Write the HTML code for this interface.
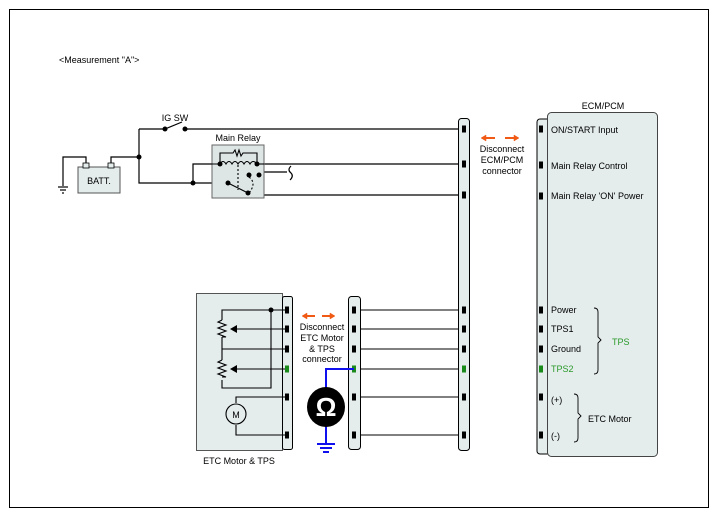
<!DOCTYPE html>
<html><head><meta charset="utf-8"><style>
html,body{margin:0;padding:0;background:#fff;}
svg{display:block;font-family:"Liberation Sans",sans-serif;}
</style></head><body>
<svg width="717" height="518" viewBox="0 0 717 518" xmlns="http://www.w3.org/2000/svg">
<rect x="9.5" y="9.5" width="699" height="498" fill="#fff" stroke="#000" stroke-width="1"/>
<text x="59" y="63" font-size="9">&lt;Measurement "A"&gt;</text>

<g stroke="#000" stroke-width="1.2" fill="none">
<polyline points="63,186 63,157 86,157 86,167"/>
<line x1="58" y1="187" x2="68" y2="187"/><line x1="60" y1="190" x2="66" y2="190"/><line x1="62" y1="193" x2="64" y2="193"/>
<polyline points="111,167 111,157 139,157"/>
<polyline points="139,129 139,183 193,183"/>
<line x1="139" y1="129" x2="165" y2="129"/>
<line x1="165" y1="129" x2="182" y2="122"/>
<line x1="185" y1="129" x2="458" y2="129"/>
<polyline points="193,183 193,164 220,164"/>
<polyline points="193,183 228,183 247,193"/>
<line x1="257" y1="164" x2="458" y2="164"/>
<polyline points="248,172 280,172 287,172"/>
<path d="M291,166 Q287,170 291,173 Q294,176 290,180"/>
<polyline points="259,172 259,195 458,195"/>
</g>
<rect x="78" y="167" width="42" height="26" fill="#e4ecec" stroke="#555"/>
<text x="99" y="184" font-size="9" text-anchor="middle">BATT.</text>
<rect x="83" y="163" width="6" height="5" fill="#e4ecec" stroke="#000" stroke-width="0.8"/>
<rect x="108" y="163" width="6" height="5" fill="#e4ecec" stroke="#000" stroke-width="0.8"/>
<circle cx="139" cy="157" r="2.5"/>
<circle cx="165" cy="129" r="2.5"/><circle cx="185" cy="129" r="2.5"/>
<text x="175" y="121" font-size="9" text-anchor="middle">IG SW</text>

<text x="238" y="141" font-size="9" text-anchor="middle">Main Relay</text>
<rect x="212" y="145" width="52" height="53" fill="#dde5e5" stroke="#666"/>
<g stroke="#000" stroke-width="1.1" fill="none">
<line x1="193" y1="164" x2="220" y2="164"/>
<polyline points="220,164 220,153 233,153 235,150 237,156 239,150 241,156 243,153 257,153 257,164"/>
<path d="M220,164 q3,-5 6,0 q3,-5 6,0 q3,-5 6,0 q3,-5 6,0 q3,-5 6,0 q3,-5 7,0"/>
<line x1="238" y1="165" x2="238" y2="190" stroke-dasharray="2,2"/>
<line x1="228" y1="183" x2="248" y2="193"/>
<path d="M249,177 q8,6 0,16" stroke-dasharray="2,2"/>
<line x1="257" y1="164" x2="264" y2="164"/>
</g>
<g fill="#000"><circle cx="220" cy="164" r="2.5"/><circle cx="257" cy="164" r="2.5"/><circle cx="193" cy="183" r="2.5"/><circle cx="228" cy="183" r="2.5"/><circle cx="248" cy="193" r="2.5"/><circle cx="249" cy="175" r="2.5"/><circle cx="259" cy="175" r="2.5"/></g>

<rect x="458.5" y="118.5" width="11" height="332" rx="3" fill="#e4ecec" stroke="#000"/>
<text x="603" y="109" font-size="9" text-anchor="middle">ECM/PCM</text>
<rect x="537" y="119" width="14" height="335" rx="3" fill="#e4ecec" stroke="#000"/>
<rect x="547.5" y="112.5" width="110" height="344" rx="4" fill="#e4ecec" stroke="#444"/>
<g fill="#000">
<rect x="539" y="125.5" width="4" height="7"/><rect x="539" y="161.5" width="4" height="7"/><rect x="539" y="192.5" width="4" height="7"/>
<rect x="539" y="306.5" width="4" height="7"/><rect x="539" y="325.5" width="4" height="7"/><rect x="539" y="345.5" width="4" height="7"/>
<rect x="539" y="365.5" width="4" height="7" fill="#1a8a1a"/>
<rect x="539" y="393.5" width="4" height="7"/><rect x="539" y="431.5" width="4" height="7"/>
</g>
<g font-size="9">
<text x="551" y="133">ON/START Input</text>
<text x="551" y="169">Main Relay Control</text>
<text x="551" y="199">Main Relay 'ON' Power</text>
<text x="551" y="313">Power</text>
<text x="551" y="332">TPS1</text>
<text x="551" y="352">Ground</text>
<text x="551" y="372" fill="#2a9a2a">TPS2</text>
<text x="551" y="403">(+)</text>
<text x="551" y="439">(-)</text>
<text x="612" y="345" fill="#2a9a2a">TPS</text>
<text x="588" y="422">ETC Motor</text>
</g>
<g stroke="#000" fill="none" stroke-width="0.9">
<path d="M594,308 q4,0 4,4 v25 l3,3 l-3,3 v27 q0,4 -4,4"/>
<path d="M574,394 q4,0 4,4 v15 l3,3 l-3,3 v19 q0,4 -4,4"/>
</g>

<g fill="#f05a14" stroke="#f05a14" stroke-width="2">
<line x1="485" y1="138" x2="495" y2="138"/><line x1="505" y1="138" x2="515" y2="138"/>
<path d="M481,138 l5,-3 v6z" stroke-width="0.5"/><path d="M519,138 l-5,-3 v6z" stroke-width="0.5"/>
</g>
<g font-size="9" text-anchor="middle">
<text x="502" y="152">Disconnect</text><text x="502" y="163">ECM/PCM</text><text x="502" y="174">connector</text>
</g>

<rect x="196.5" y="293.5" width="86" height="157" fill="#e4ecec" stroke="#555"/>
<rect x="282.5" y="296.5" width="10" height="153" rx="2" fill="#e4ecec" stroke="#000"/>
<text x="239" y="464" font-size="9" text-anchor="middle">ETC Motor &amp; TPS</text>
<rect x="348.5" y="296.5" width="12" height="153" rx="3" fill="#e4ecec" stroke="#000"/>

<g stroke="#000" stroke-width="1.1" fill="none">
<polyline points="287,310 222,310 222,320"/>
<polyline points="271,310 271,388 222,388 222,380"/>
<line x1="222" y1="337" x2="222" y2="360"/>
<line x1="222" y1="349" x2="287" y2="349"/>
<path d="M222,320 l-4,2 l8,3 l-8,3 l8,3 l-8,3 l8,3 l-4,0"/>
<path d="M222,360 l-4,2 l8,3 l-8,3 l8,3 l-8,3 l8,3 l-4,0"/>
<line x1="236" y1="329" x2="287" y2="329"/>
<line x1="236" y1="369" x2="287" y2="369"/>
<polyline points="287,397 236,397 236,403"/>
<polyline points="287,435 236,435 236,425"/>
<circle cx="236" cy="414" r="10" fill="#e4ecec"/>
</g>
<path d="M230,329 l7,-4 v8z" fill="#000"/><path d="M230,369 l7,-4 v8z" fill="#000"/>
<circle cx="271" cy="310" r="2.5"/>
<text x="236" y="418" font-size="9" text-anchor="middle">M</text>

<g stroke="#000" stroke-width="1.1">
<line x1="361" y1="310" x2="458" y2="310"/><line x1="361" y1="329" x2="458" y2="329"/>
<line x1="361" y1="349" x2="458" y2="349"/><line x1="361" y1="369" x2="458" y2="369"/>
<line x1="361" y1="397" x2="458" y2="397"/><line x1="361" y1="435" x2="458" y2="435"/>
</g>
<g fill="#000">
<rect x="285" y="306.5" width="4" height="7"/><rect x="285" y="325.5" width="4" height="7"/><rect x="285" y="345.5" width="4" height="7"/><rect x="285" y="365.5" width="4" height="7" fill="#1a8a1a"/><rect x="285" y="393.5" width="4" height="7"/><rect x="285" y="431.5" width="4" height="7"/>
<rect x="352" y="306.5" width="4" height="7"/><rect x="352" y="325.5" width="4" height="7"/><rect x="352" y="345.5" width="4" height="7"/><rect x="352" y="365.5" width="4" height="7" fill="#1a8a1a"/><rect x="352" y="393.5" width="4" height="7"/><rect x="352" y="431.5" width="4" height="7"/>
<rect x="462" y="125.5" width="4" height="7"/><rect x="462" y="160.5" width="4" height="7"/><rect x="462" y="191.5" width="4" height="7"/>
<rect x="462" y="306.5" width="4" height="7"/><rect x="462" y="325.5" width="4" height="7"/><rect x="462" y="345.5" width="4" height="7"/><rect x="462" y="365.5" width="4" height="7" fill="#1a8a1a"/><rect x="462" y="393.5" width="4" height="7"/><rect x="462" y="431.5" width="4" height="7"/>
</g>

<g fill="#f05a14" stroke="#f05a14" stroke-width="2">
<line x1="306" y1="316" x2="315" y2="316"/><line x1="322" y1="316" x2="331" y2="316"/>
<path d="M302,316 l5,-3 v6z" stroke-width="0.5"/><path d="M335,316 l-5,-3 v6z" stroke-width="0.5"/>
</g>
<g font-size="9" text-anchor="middle">
<text x="322" y="330">Disconnect</text><text x="322" y="341">ETC Motor</text><text x="322" y="352">&amp; TPS</text><text x="322" y="362">connector</text>
</g>

<g stroke="#1010ee" stroke-width="2" fill="none">
<polyline points="354,369 326,369 326,390"/>
<line x1="326" y1="424" x2="326" y2="444"/>
<line x1="317" y1="444" x2="335" y2="444"/><line x1="320" y1="448" x2="332" y2="448"/><line x1="323" y1="452" x2="329" y2="452"/>
</g>
<ellipse cx="326" cy="407" rx="19" ry="20" fill="#000"/>
<text x="326" y="416" font-size="26" font-weight="bold" fill="#fff" text-anchor="middle">Ω</text>
</svg>
</body></html>
